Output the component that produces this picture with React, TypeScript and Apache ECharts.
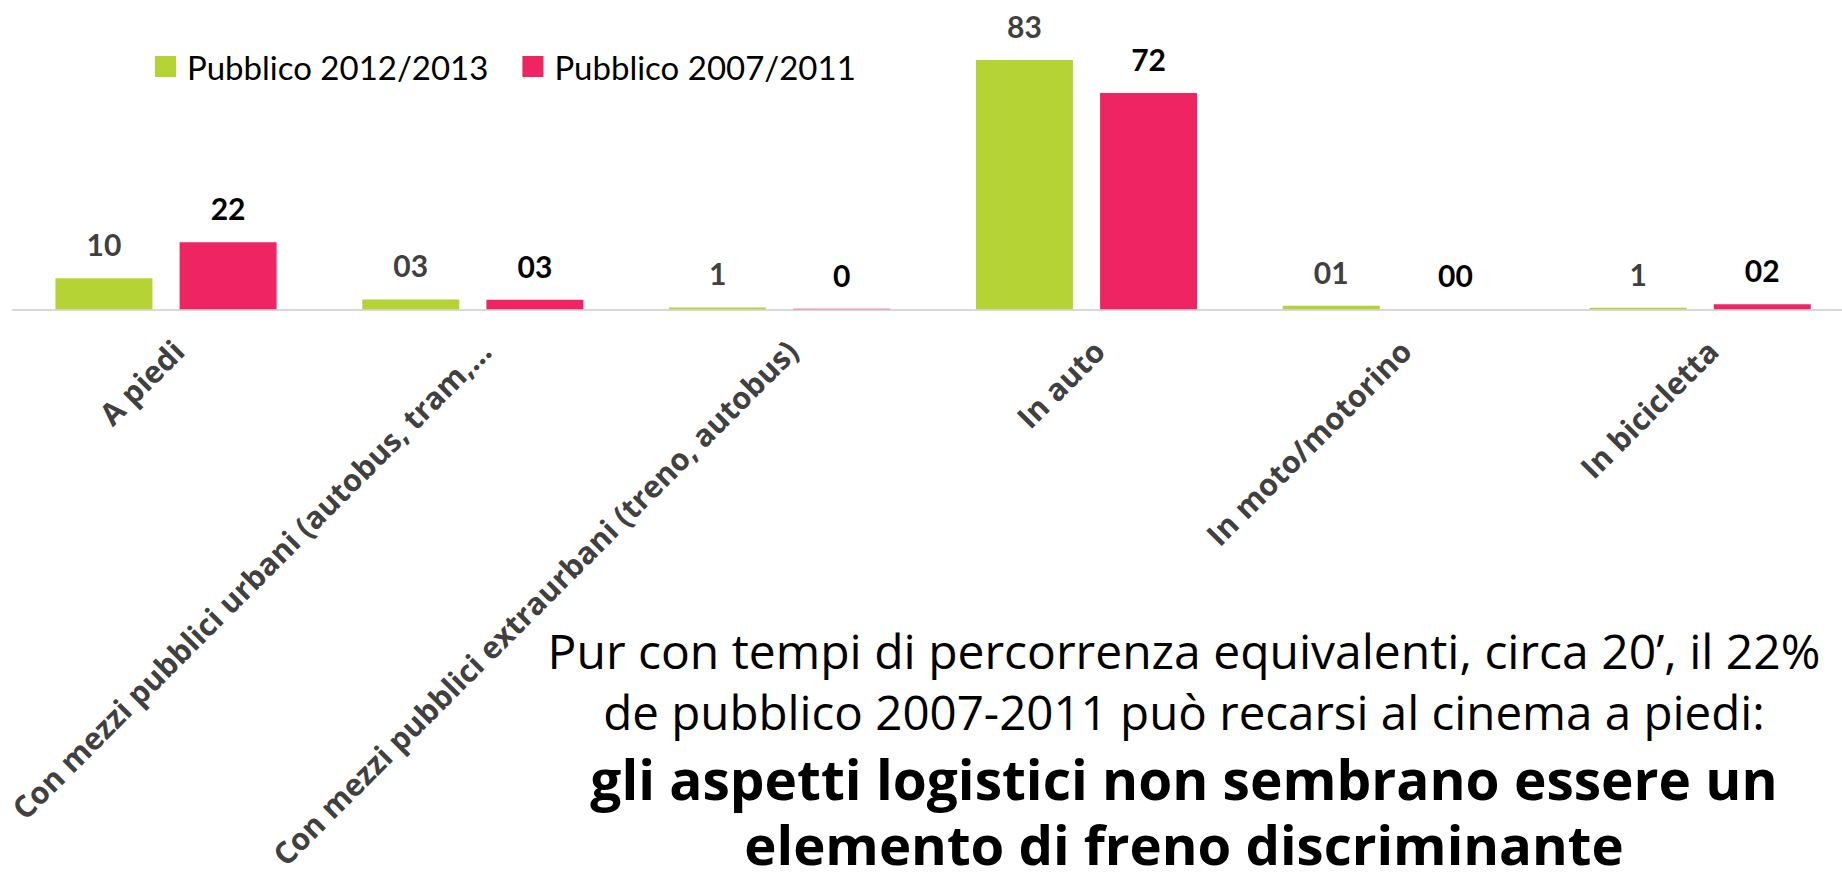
import React, { useEffect, useRef } from "react";
import * as echarts from "echarts";

const categories = [
  "A piedi",
  "Con mezzi pubblici urbani (autobus, tram,…",
  "Con mezzi pubblici extraurbani (treno, autobus)",
  "In auto",
  "In moto/motorino",
  "In bicicletta",
];
const seriesNames = ["Pubblico 2012/2013", "Pubblico 2007/2011"];
const values2012 = [10.3, 3.3, 0.6, 83, 1.2, 0.5];
const values2007 = [22.3, 3.2, 0.15, 72, 0, 1.7];
const labels2012 = ["10", "03", "1", "83", "01", "1"];
const labels2007 = ["22", "03", "0", "72", "00", "02"];
const noteLines = [
  "Pur con tempi di percorrenza equivalenti, circa 20’, il 22%",
  "de pubblico 2007-2011 può recarsi al cinema a piedi:",
  "gli aspetti logistici non sembrano essere un",
  "elemento di freno discriminante",
];

const GREEN = "#B5D334";
const PINK = "#EE2463";

export default function App() {
  const ref = useRef<HTMLDivElement>(null);
  useEffect(() => {
    if (!ref.current) return;
    const chart = echarts.init(ref.current, null, { renderer: "svg" });
    const noteStyles = [
      { y: 650, size: 48, weight: "normal", lh: 56 },
      { y: 711, size: 47.5, weight: "normal", lh: 56 },
      { y: 778.5, size: 55, weight: "bold", lh: 50 },
      { y: 843.5, size: 54.5, weight: "bold", lh: 50 },
    ];
    chart.setOption({
      animation: false,
      legend: {
        left: 155,
        top: 50,
        padding: 0,
        itemWidth: 21,
        itemHeight: 21,
        itemGap: 34,
        icon: "rect",
        data: seriesNames,
        textStyle: {
          fontFamily: "Lato",
          fontSize: 33,
          color: "#000",
          padding: [0, 0, 0, 6],
        },
      },
      grid: {
        left: 12.6,
        top: 8.9,
        width: 1841,
        height: 300.4,
        containLabel: false,
        outerBoundsMode: "none",
      },
      xAxis: {
        type: "category",
        data: categories,
        axisLine: { lineStyle: { color: "#d9d9d9", width: 2 } },
        axisTick: { show: false },
        axisLabel: {
          interval: 0,
          rotate: 45,
          margin: 48,
          padding: [0, -17, 0, 0],
          fontFamily: "Open Sans",
          fontWeight: "bold",
          fontSize: 30.5,
          color: "#404040",
        },
      },
      yAxis: { type: "value", min: 0, max: 100, show: false },
      series: [
        {
          name: seriesNames[0],
          type: "bar",
          data: values2012,
          barWidth: 97,
          barGap: "28%",
          itemStyle: { color: GREEN },
          label: {
            show: true,
            position: "top",
            distance: 19,
            formatter: (p: any) => labels2012[p.dataIndex],
            fontFamily: "Lato",
            fontWeight: "bold",
            fontSize: 30,
            color: "#404040",
          },
        },
        {
          name: seriesNames[1],
          type: "bar",
          data: values2007,
          barWidth: 97,
          barGap: "28%",
          itemStyle: { color: PINK },
          label: {
            show: true,
            position: "top",
            distance: 19,
            formatter: (p: any) => labels2007[p.dataIndex],
            fontFamily: "Lato",
            fontWeight: "bold",
            fontSize: 30,
            color: "#000",
          },
        },
      ],
      graphic: noteLines.map((t, i) => ({
        type: "text",
        x: 1184,
        y: noteStyles[i].y,
        style: {
          text: t,
          textAlign: "center",
          textVerticalAlign: "middle",
          verticalAlign: "middle",
          lineHeight: noteStyles[i].lh,
          fontFamily: "Open Sans",
          fontSize: noteStyles[i].size,
          fontWeight: noteStyles[i].weight,
          fill: "#000",
        },
      })),
    });
    return () => chart.dispose();
  }, []);
  return (
    <div
      ref={ref}
      style={{ position: "absolute", left: 0, top: 0, width: 1842, height: 875 }}
    />
  );
}
